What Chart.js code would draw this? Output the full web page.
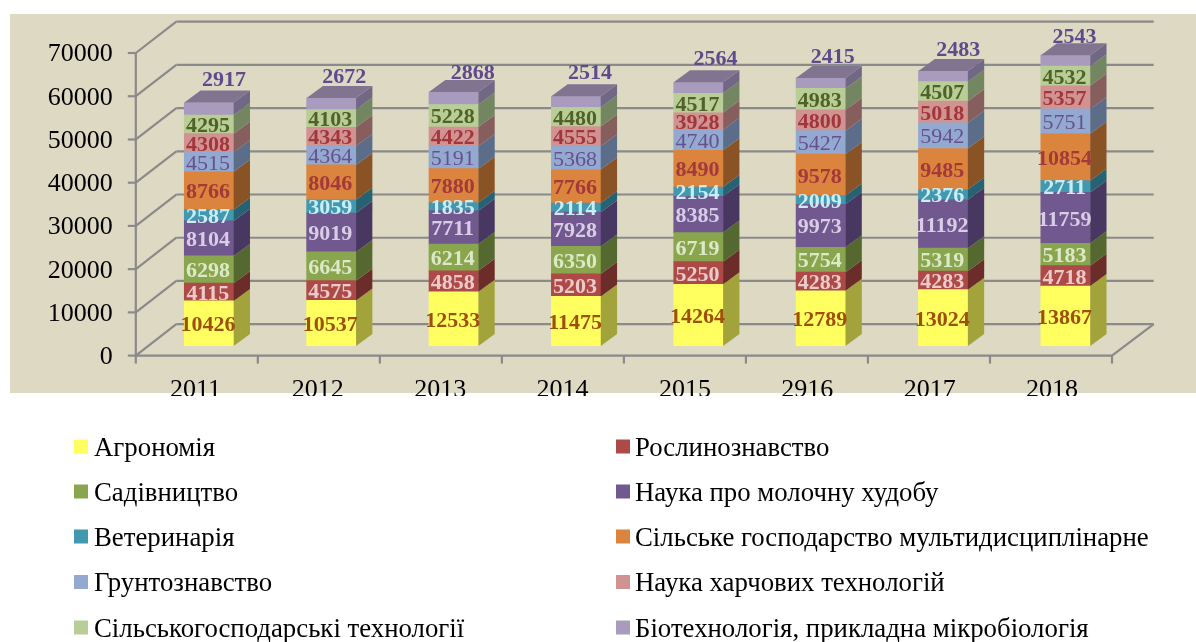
<!DOCTYPE html>
<html lang="uk"><head><meta charset="utf-8">
<style>html,body{margin:0;padding:0;background:#fff}canvas{display:block}</style>
<script src="https://cdn.jsdelivr.net/npm/chart.js@4/dist/chart.umd.min.js"></script>
</head><body>
<canvas id="c" width="1196" height="642"></canvas>
<script>
const categories = ['2011','2012','2013','2014','2015','2916','2017','2018'];
const seriesNames = ['Агрономія','Рослинознавство','Садівництво','Наука про молочну худобу','Ветеринарія','Сільське господарство мультидисциплінарне','Грунтознавство','Наука харчових технологій','Сільськогосподарські технології','Біотехнологія, прикладна мікробіологія'];
const agronomy = [10426,10537,12533,11475,14264,12789,13024,13867];
const plantScience = [4115,4575,4858,5203,5250,4283,4283,4718];
const horticulture = [6298,6645,6214,6350,6719,5754,5319,5183];
const dairy = [8104,9019,7711,7928,8385,9973,11192,11759];
const veterinary = [2587,3059,1835,2114,2154,2009,2376,2711];
const agriMulti = [8766,8046,7880,7766,8490,9578,9485,10854];
const soil = [4515,4364,5191,5368,4740,5427,5942,5751];
const foodTech = [4308,4343,4422,4555,3928,4800,5018,5357];
const agriTech = [4295,4103,5228,4480,4517,4983,4507,4532];
const biotech = [2917,2672,2868,2514,2564,2415,2483,2543];
const seriesValues = [agronomy,plantScience,horticulture,dairy,veterinary,agriMulti,soil,foodTech,agriTech,biotech];

const frontColors = ['#FFFF5F','#AD4A47','#89A54E','#71588F','#4198AF','#DB843D','#93A9CF','#D19392','#B9CD96','#A99BBD'];
const sideColors  = ['#A3A33C','#6B2C2A','#55682F','#483760','#266273','#8A5326','#5C6D8A','#875E5E','#748562','#716885'];
const labelColors = ['#9E4F0B','#EBCBCA','#DCE8C8','#D9CDE6','#C9EDF5','#A3393A','#67508F','#A3363A','#4F6228','#5F4A8B'];
const labelWeights = ['bold','bold','bold','bold','bold','bold','normal','bold','bold','bold'];
const topLabelNudgeX = [1,-1,5,0,3,-2,1,-5];
const topLabelNudgeY = [2,3,5,1,1,3,3,6];

const SERIF = '"Liberation Serif","Times New Roman",serif';
const LINE = '#8A8A8A';
const BG = '#DDD9C3';

const scene3d = {
  id:'scene3d',
  beforeDraw(chart){
    const {ctx} = chart;
    ctx.save();
    ctx.fillStyle = BG;
    ctx.fillRect(10,14,1186,379);
    ctx.restore();
  },
  beforeDatasetsDraw(chart){
    const {ctx,chartArea:a,scales:{y}} = chart;
    const fl = a.left-12, fr = a.right-14.7, bl = a.left+28.5, br = a.right+27;
    const fdy = 9.6, bdy = -21.8;
    ctx.save();
    ctx.strokeStyle = LINE; ctx.lineWidth = 2.2;
    const seg=(x1,y1,x2,y2)=>{ctx.beginPath();ctx.moveTo(x1,y1);ctx.lineTo(x2,y2);ctx.stroke();};
    y.ticks.forEach(t=>{
      const p = y.getPixelForValue(t.value);
      seg(fl-8,p+fdy,fl,p+fdy);
      seg(fl,p+fdy,bl,p+bdy);
      seg(bl,p+bdy,br,p+bdy);
    });
    const p0 = y.getPixelForValue(0), pm = y.getPixelForValue(70000);
    seg(fl,pm+fdy,fl,p0+fdy);
    seg(fl,p0+fdy,fr,p0+fdy);
    seg(fr,p0+fdy,br,p0+bdy);
    for(let i=0;i<=categories.length;i++){
      const x = fl+(fr-fl)*i/categories.length;
      seg(x,p0+fdy,x,p0+fdy+8);
    }
    ctx.restore();
  },
  afterDatasetsDraw(chart){
    const {ctx} = chart;
    const dx=16.3, dy=12;
    ctx.save();
    chart.data.datasets.forEach((ds,di)=>{
      chart.getDatasetMeta(di).data.forEach(b=>{
        const r=b.x+b.width/2, l=b.x-b.width/2;
        ctx.fillStyle = sideColors[di];
        ctx.beginPath();ctx.moveTo(r,b.y);ctx.lineTo(r+dx,b.y-dy);ctx.lineTo(r+dx,b.base-dy);ctx.lineTo(r,b.base);ctx.closePath();ctx.fill();
        if(di===chart.data.datasets.length-1){
          ctx.fillStyle = '#807490';
          ctx.beginPath();ctx.moveTo(l,b.y);ctx.lineTo(l+dx,b.y-dy);ctx.lineTo(r+dx,b.y-dy);ctx.lineTo(r,b.y);ctx.closePath();ctx.fill();
        }
      });
    });
    ctx.textBaseline='middle'; ctx.textAlign='center';
    chart.data.datasets.forEach((ds,di)=>{
      ctx.font = labelWeights[di]+' 22px '+SERIF;
      ctx.fillStyle = labelColors[di];
      const last = di===chart.data.datasets.length-1;
      chart.getDatasetMeta(di).data.forEach((b,i)=>{
        const v = ds.data[i];
        if(last) ctx.fillText(String(v), b.x+14+topLabelNudgeX[i], b.y-24+topLabelNudgeY[i]);
        else ctx.fillText(String(v), b.x-1, (b.y+b.base)/2+2);
      });
    });
    // legend
    const swatchX=[74,616], textX=[94,635], rows=[439.5,484.5,529.5,575,620.5];
    ctx.textAlign='left'; ctx.font='26.8px '+SERIF;
    seriesNames.forEach((n,i)=>{
      const c=i%2, top=rows[Math.floor(i/2)];
      ctx.fillStyle=frontColors[i];
      ctx.fillRect(swatchX[c],top,14,14);
      ctx.fillStyle='#000';
      ctx.fillText(n,textX[c],top+9);
    });
    ctx.restore();
  }
};

new Chart(document.getElementById('c'),{
  type:'bar',
  data:{labels:categories,datasets:seriesValues.map((data,i)=>({label:seriesNames[i],data,backgroundColor:frontColors[i],borderWidth:0,barThickness:49.4}))},
  options:{
    responsive:false,animation:false,
    layout:{padding:{left:0,top:43.4,right:69.3,bottom:246}},
    plugins:{legend:{display:false},tooltip:{enabled:false}},
    scales:{
      x:{stacked:true,grid:{display:false,drawTicks:false},border:{display:false},
        afterFit(s){s.height=50;s.paddingLeft=0;s.paddingRight=0;},
        ticks:{autoSkip:false,maxRotation:0,labelOffset:-13.5,padding:29,color:'#000',font:{family:SERIF,size:26}}},
      y:{stacked:true,min:0,max:70000,grid:{display:false,drawTicks:false},border:{display:false},
        afterFit(s){s.width=147.8;s.paddingTop=0;s.paddingBottom=0;},
        ticks:{stepSize:10000,labelOffset:11.2,padding:35,color:'#000',font:{family:SERIF,size:26},callback:v=>String(v)}}
    }
  },
  plugins:[scene3d]
});
</script>
</body></html>
